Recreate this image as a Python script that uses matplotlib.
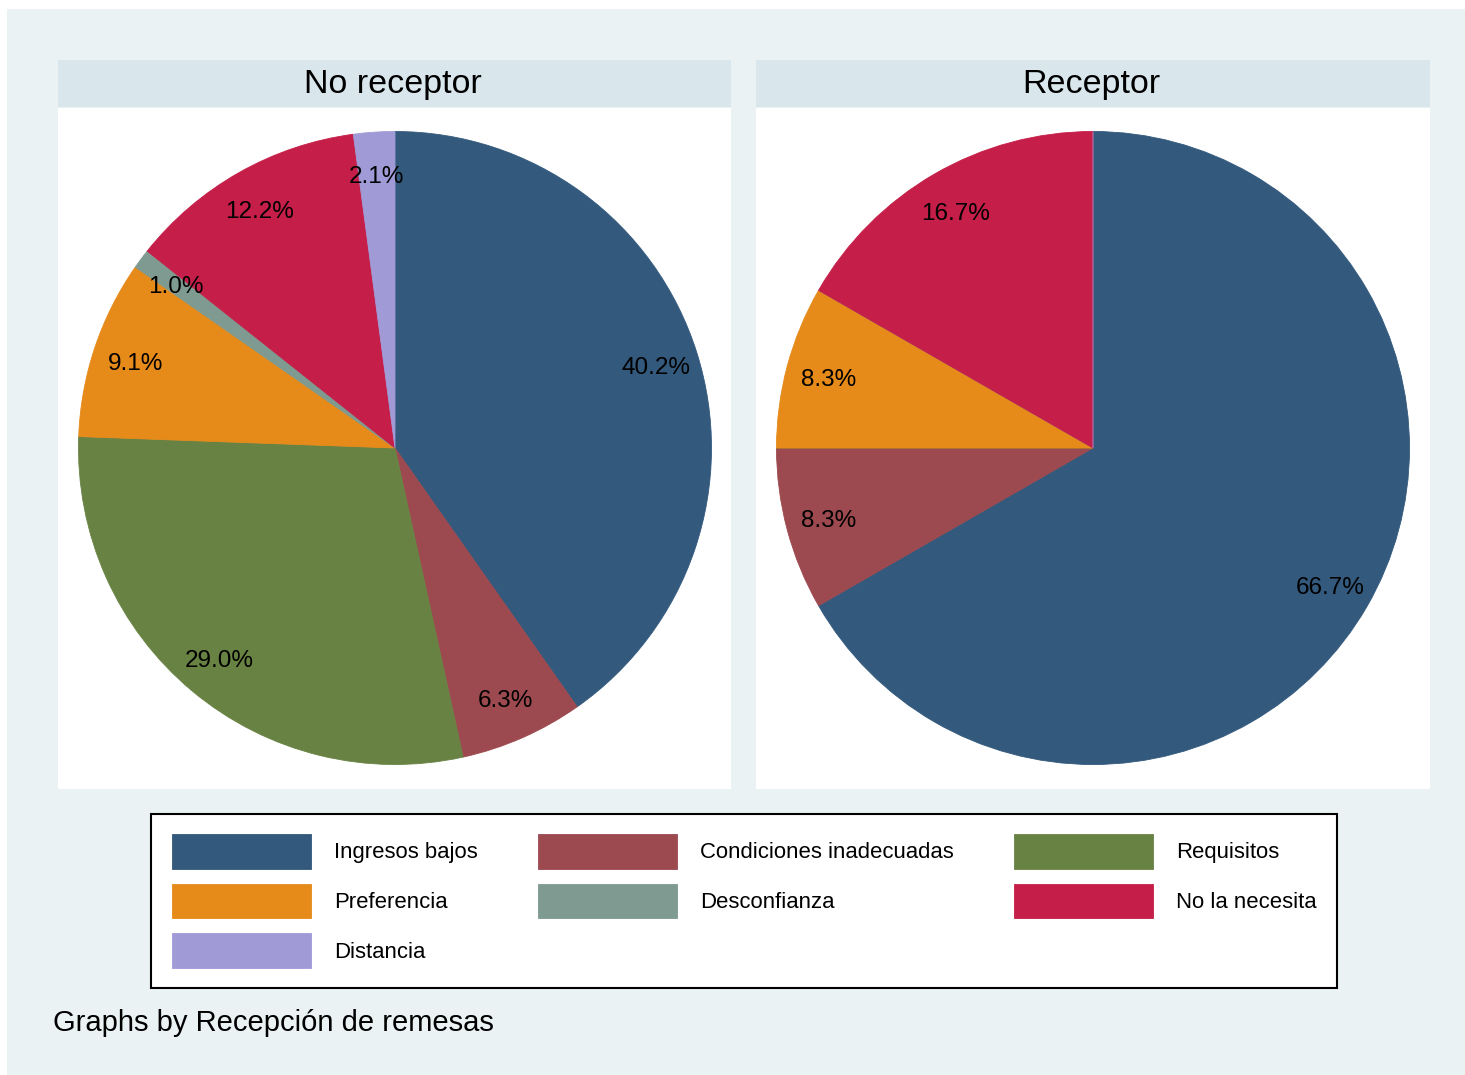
import matplotlib
matplotlib.use("Agg")
import matplotlib.pyplot as plt

plt.rcParams['font.family'] = ['Liberation Sans', 'DejaVu Sans']

# data
categories = ["Ingresos bajos", "Condiciones inadecuadas", "Requisitos",
              "Preferencia", "Desconfianza", "No la necesita", "Distancia"]
groups = ["No receptor", "Receptor"]
no_receptor = [40.2, 6.3, 29.0, 9.1, 1.0, 12.2, 2.1]
receptor = [66.7, 8.3, 0.0, 8.3, 0.0, 16.7, 0.0]
colors = ["#33597d", "#9c4a4f", "#688243", "#e68a1a", "#7f9a90", "#c51e48", "#a09ad6"]

W, H = 1465, 1075
fig = plt.figure(figsize=(W / 100, H / 100), dpi=100)
fig.patch.set_facecolor("white")

def px_axes(x0, y0, x1, y1):
    # pixel box (top-left origin) -> figure axes
    return fig.add_axes([x0 / W, 1 - y1 / H, (x1 - x0) / W, (y1 - y0) / H])

# outer graph region
bg = px_axes(7, 9, W, H)
bg.set_facecolor("#eaf2f3")
bg.set_xticks([]); bg.set_yticks([])
for s in bg.spines.values():
    s.set_visible(False)

panels = [(58, 731), (756, 1430)]
wedges_all = []
for (x0, x1), name, vals in zip(panels, groups, [no_receptor, receptor]):
    # title strip
    tax = px_axes(x0, 60, x1, 107)
    tax.set_facecolor("#d9e6ec")
    tax.set_xticks([]); tax.set_yticks([])
    for s in tax.spines.values():
        s.set_visible(False)
    tax.text(0.497, 0.47, name, ha="center", va="center", fontsize=24.5, color="black")

    # plot region
    ax = px_axes(x0, 108, x1, 789)
    w, h = x1 - x0, 789 - 108
    labels = [f"{v:.1f}%" if v > 0 else "" for v in vals]
    wedges, texts = ax.pie(vals, colors=colors, startangle=90, counterclock=False,
                           radius=316.5, center=(337, 341), labels=labels,
                           labeldistance=0.865,
                           wedgeprops=dict(linewidth=0.6),
                           textprops=dict(ha="center", va="center_baseline",
                                          fontsize=17.5, color="black"))
    for wd, c in zip(wedges, colors):
        wd.set_edgecolor(c)
    ax.set_frame_on(True)
    for s in ax.spines.values():
        s.set_visible(False)
    ax.set_facecolor("white")
    ax.set_xlim(0, w)
    ax.set_ylim(0, h)
    ax.set_aspect("equal")
    ax.set_xticks([]); ax.set_yticks([])
    wedges_all.append(wedges)

# legend, filled column by column so rows read like the original
order = [0, 3, 6, 1, 4, 2, 5]
handles = [wedges_all[0][i] for i in order]
names = [categories[i] for i in order]
leg = fig.legend(handles, names, ncol=3, loc="center",
                 bbox_to_anchor=(744 / W, 1 - 901 / H),
                 fontsize=15.9, handlelength=6.3, handleheight=2.06,
                 handletextpad=1.04, columnspacing=2.72, labelspacing=0.66,
                 borderpad=0.92, fancybox=False, framealpha=1, edgecolor="black")
leg.get_frame().set_linewidth(1.5)

fig.text(53 / W, 1 - 1023 / H, "Graphs by Recepción de remesas",
         ha="left", va="center", fontsize=21, color="black")

fig.savefig("out.png", dpi=100)
